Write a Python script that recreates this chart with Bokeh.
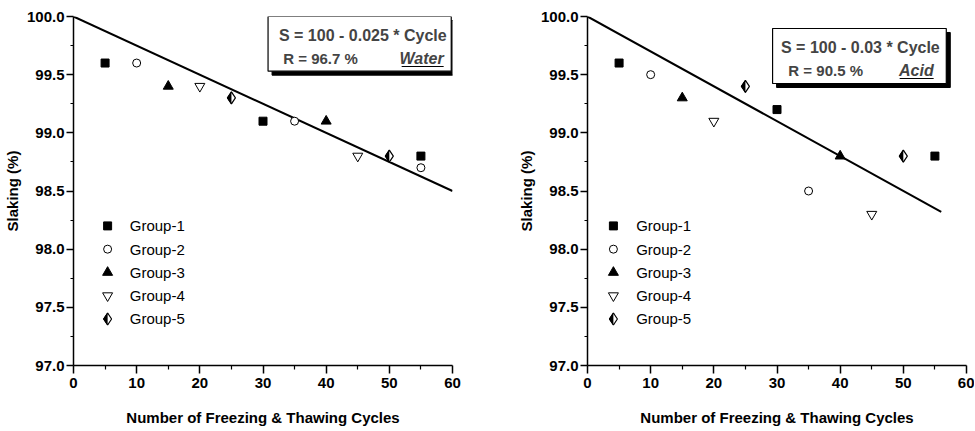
import math
from bokeh.plotting import figure
from bokeh.layouts import row
from bokeh.models import FixedTicker, NumeralTickFormatter, Range1d, BoxAnnotation, Label
from bokeh.embed import file_html
from bokeh.resources import INLINE

# ---------------- data ----------------
x_ticks = [0, 10, 20, 30, 40, 50, 60]
x_minor = [5, 15, 25, 35, 45, 55]
y_ticks = [97.0, 97.5, 98.0, 98.5, 99.0, 99.5, 100.0]
y_minor = [97.25, 97.75, 98.25, 98.75, 99.25, 99.75]
groups = ["Group-1", "Group-2", "Group-3", "Group-4", "Group-5"]

water_x = [[5, 30, 55], [10, 35, 55], [15, 40], [20, 45], [25, 50]]
water_y = [[99.6, 99.1, 98.8], [99.6, 99.1, 98.7], [99.4, 99.1], [99.4, 98.8], [99.3, 98.8]]
acid_x = [[5, 30, 55], [10, 35], [15, 40], [20, 45], [25, 50]]
acid_y = [[99.6, 99.2, 98.8], [99.5, 98.5], [99.3, 98.8], [99.1, 98.3], [99.4, 98.8]]

water_intercept, water_slope, water_fit_end = 100.0, 0.025, 60
acid_intercept, acid_slope, acid_fit_end = 100.0, 0.03, 56

water_eq, water_r, water_name = "S = 100 - 0.025 * Cycle", "R = 96.7 %", "Water"
acid_eq, acid_r, acid_name = "S = 100 - 0.03 * Cycle", "R = 90.5 %", "Acid"

x_label = "Number of Freezing & Thawing Cycles"
y_label = "Slaking (%)"

FONT = "Liberation Sans"
HEIGHT = 430
FRAME_H = 349
FRAME_W = 379
TOP = 16


def make_panel(width, border_left, border_right, xs, ys, b, m, fit_end,
               eq, rtxt, name, box, eq_x, r_x, name_right, name_w,
               leg_mx, leg_tx):
    p = figure(width=width, height=HEIGHT, output_backend="svg", toolbar_location=None,
               x_range=Range1d(0, 60), y_range=Range1d(97, 100),
               min_border_left=border_left, min_border_right=border_right,
               min_border_top=TOP, min_border_bottom=HEIGHT - TOP - FRAME_H)
    p.outline_line_color = None
    p.grid.grid_line_color = None
    px_x = 60.0 / FRAME_W
    px_y = 3.0 / FRAME_H

    for ax in (p.xaxis[0], p.yaxis[0]):
        ax.axis_line_width = 1.5
        ax.major_tick_line_width = 1.5
        ax.minor_tick_line_width = 1.2
        ax.major_tick_in = 0
        ax.minor_tick_in = 0
        ax.major_label_text_font = FONT
        ax.major_label_text_font_style = "bold"
        ax.major_label_text_font_size = "15px"
        ax.major_label_text_color = "black"
        ax.axis_label_text_font = FONT
        ax.axis_label_text_font_style = "bold"
        ax.axis_label_text_font_size = "15px"
        ax.axis_label_text_color = "black"
    p.xaxis.ticker = FixedTicker(ticks=x_ticks, minor_ticks=x_minor)
    p.yaxis.ticker = FixedTicker(ticks=y_ticks, minor_ticks=y_minor)
    p.xaxis.formatter = NumeralTickFormatter(format="0")
    p.yaxis.formatter = NumeralTickFormatter(format="0.0")
    p.xaxis.major_tick_out = 8
    p.xaxis.minor_tick_out = 4
    p.yaxis.major_tick_out = 7
    p.yaxis.minor_tick_out = 3
    p.xaxis.major_label_standoff = 4
    p.yaxis.major_label_standoff = 2
    p.xaxis.axis_label_standoff = 18
    p.yaxis.axis_label_standoff = 3
    p.xaxis.axis_label = x_label
    p.yaxis.axis_label = y_label

    # fit line
    p.line([0, fit_end], [b, b - m * fit_end], line_color="black", line_width=2)

    def draw_markers(k, X, Y):
        if k == 0:
            p.scatter(X, Y, marker="square", size=8, fill_color="black", line_color="black")
        elif k == 1:
            p.scatter(X, Y, marker="circle", size=8, fill_color="white", line_color="black", line_width=1)
        elif k == 2:
            p.scatter(X, Y, marker="triangle", size=10, fill_color="black", line_color="black")
        elif k == 3:
            p.scatter(X, Y, marker="inverted_triangle", size=10, fill_color="white", line_color="black", line_width=1)
        else:
            p.scatter(X, Y, marker="diamond", size=12, fill_color="black", line_color="black")
            p.wedge(X, Y, radius=5.8, radius_units="screen", start_angle=-math.pi / 2,
                    end_angle=math.pi / 2, fill_color="white", line_color=None)
            p.scatter(X, Y, marker="diamond", size=12, fill_color=None, line_color="black", line_width=1.2)

    for k in range(5):
        draw_markers(k, xs[k], ys[k])

    # legend (manual)
    for k, g in enumerate(groups):
        ly = 98.2 - 0.2 * k
        draw_markers(k, [leg_mx], [ly])
        p.add_layout(Label(x=leg_tx, y=ly, text=g, text_font=FONT, text_font_size="15px",
                           text_baseline="middle", text_color="black"))

    # equation box with shadow
    l, r, t, bt = box
    p.add_layout(BoxAnnotation(left=l + 4 * px_x, right=r + 4 * px_x, top=t - 4 * px_y,
                               bottom=bt - 4 * px_y, fill_color="black", fill_alpha=1,
                               line_color="black", line_alpha=1, level="overlay"))
    p.add_layout(BoxAnnotation(left=l, right=r, top=t, bottom=bt, fill_color="white",
                               fill_alpha=1, line_color="black", line_width=1.2,
                               line_alpha=1, level="overlay"))
    y1 = t - 19 * px_y
    y2 = t - 42 * px_y
    p.add_layout(Label(x=eq_x, y=y1, text=eq, text_font=FONT, text_font_style="bold",
                       text_font_size="16px", text_align="center", text_baseline="middle",
                       level="overlay"))
    p.add_layout(Label(x=r_x, y=y2, text=rtxt, text_font=FONT, text_font_style="bold",
                       text_font_size="15px", text_align="left", text_baseline="middle",
                       level="overlay"))
    p.add_layout(Label(x=name_right, y=y2, text=name, text_font=FONT,
                       text_font_style="bold italic", text_font_size="16px",
                       text_align="right", text_baseline="middle", level="overlay"))
    uy = y2 - 8 * px_y
    p.add_layout(BoxAnnotation(left=name_right - name_w * px_x, right=name_right,
                               top=uy + 0.6 * px_y, bottom=uy - 0.6 * px_y,
                               fill_color="black", fill_alpha=1, line_color=None,
                               level="overlay"))
    return p


p1 = make_panel(514, 73, 62, water_x, water_y, water_intercept, water_slope, water_fit_end,
                water_eq, water_r, water_name,
                box=(30.8, 59.8, 100.0, 99.53), eq_x=45.8, r_x=33.2, name_right=58.6, name_w=42,
                leg_mx=5.4, leg_tx=8.9)
p2 = make_panel(460, 73, 8, acid_x, acid_y, acid_intercept, acid_slope, acid_fit_end,
                acid_eq, acid_r, acid_name,
                box=(29.3, 56.8, 99.897, 99.424), eq_x=43.2, r_x=31.8, name_right=54.8, name_w=34,
                leg_mx=4.1, leg_tx=7.7)

layout = row(p1, p2)
open("out.html", "w").write(file_html(layout, INLINE))
